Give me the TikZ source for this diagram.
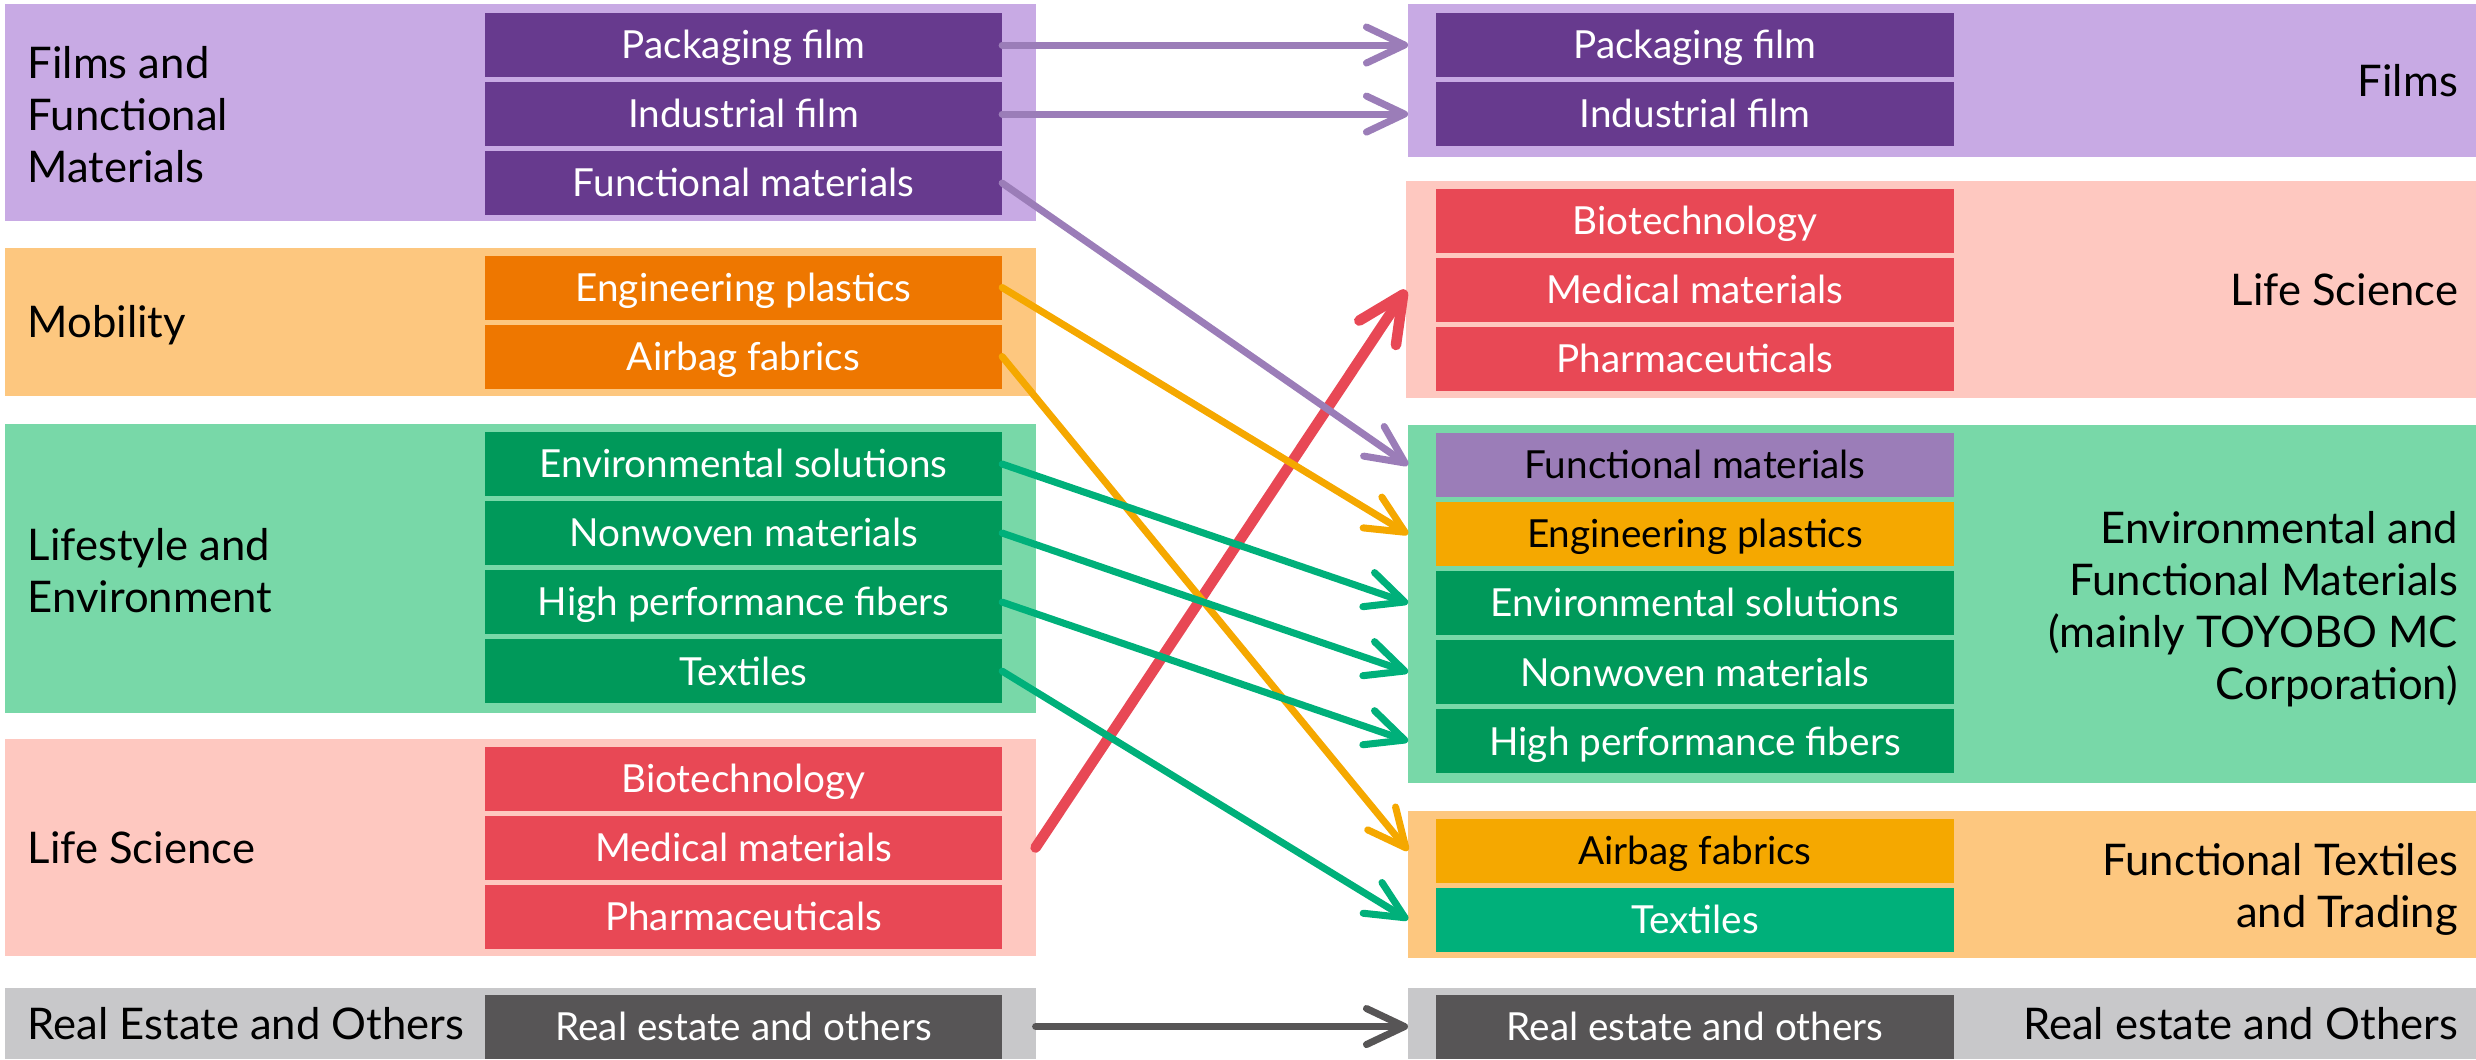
\documentclass[tikz,border=0pt]{standalone}
\usepackage{fontspec}
\setmainfont{Lato}
\usepackage{tikz}
\usetikzlibrary{positioning,arrows.meta}

\definecolor{filmbg}{HTML}{C8AAE4}
\definecolor{filmbox}{HTML}{673A8E}
\definecolor{filmline}{HTML}{9B7DB8}
\definecolor{mobbg}{HTML}{FDC77F}
\definecolor{mobbox}{HTML}{EE7700}
\definecolor{mobline}{HTML}{F5A800}
\definecolor{lifebg}{HTML}{78D8A8}
\definecolor{lifebox}{HTML}{00995A}
\definecolor{lifeline}{HTML}{00B07A}
\definecolor{scibg}{HTML}{FEC8C0}
\definecolor{scibox}{HTML}{E84855}
\definecolor{realbg}{HTML}{C8C8CA}
\definecolor{realbox}{HTML}{575556}

\begin{document}
\begin{tikzpicture}[x=0.01cm,y=-0.01cm,
    grp/.style={rectangle,inner sep=0pt,outer sep=0pt,anchor=north west},
    seg/.style={rectangle,inner sep=0pt,outer sep=0pt,minimum width=5.17cm,minimum height=0.64cm,
        text=white,font=\fontsize{11}{13}\selectfont,text height=7.9pt,text depth=0pt},
    grplabel/.style={inner sep=0pt,font=\fontsize{12.4}{14.8}\selectfont},
    oneline/.style={text height=8.9pt,text depth=0pt},
    manyline/.style={yshift=-0.05cm},
    link/.style={line width=2pt,line cap=round,-{Straight Barb[length=3.8mm,width=3.6mm,round]}}]
  \useasboundingbox (0,0) rectangle (2476,1059);

  % left side: old segments
  \node[grp,fill=filmbg,minimum width=10.3cm,minimum height=2.17cm] (gFilm) at (5,4) {};
  \node[grp,fill=mobbg,minimum width=10.3cm,minimum height=1.48cm] (gMob) at (5,248) {};
  \node[grp,fill=lifebg,minimum width=10.3cm,minimum height=2.89cm] (gLife) at (5,424) {};
  \node[grp,fill=scibg,minimum width=10.3cm,minimum height=2.17cm] (gSci) at (5,739) {};
  \node[grp,fill=realbg,minimum width=10.3cm,minimum height=0.71cm] (gReal) at (5,988) {};

  \node[grplabel,yshift=-0.02cm,align=left,right=0.22cm of gFilm.west] (tFilm) {Films and\\Functional\\Materials};
  \node[grplabel,oneline,right=0.22cm of gMob.west] (tMob) {Mobility};
  \node[grplabel,yshift=-0.02cm,align=left,right=0.22cm of gLife.west] (tLife) {Lifestyle and\\Environment};
  \node[grplabel,oneline,right=0.22cm of gSci.west] (tSci) {Life Science};
  \node[grplabel,oneline,right=0.22cm of gReal.west] (tReal) {Real Estate and Others};

  \node[seg,fill=filmbox] (lPack) at (743.5,45) {Packaging film};
  \node[seg,fill=filmbox,below=0.05cm of lPack] (lInd) {Industrial film};
  \node[seg,fill=filmbox,below=0.05cm of lInd] (lFunc) {Functional materials};

  \node[seg,fill=mobbox] (lEng) at (743.5,287.5) {Engineering plastics};
  \node[seg,fill=mobbox,below=0.05cm of lEng] (lAir) {Airbag fabrics};

  \node[seg,fill=lifebox] (lEnv) at (743.5,464) {Environmental solutions};
  \node[seg,fill=lifebox,below=0.05cm of lEnv] (lNon) {Nonwoven materials};
  \node[seg,fill=lifebox,below=0.05cm of lNon] (lHigh) {High performance fibers};
  \node[seg,fill=lifebox,below=0.05cm of lHigh] (lTex) {Textiles};

  \node[seg,fill=scibox] (lBio) at (743.5,778.5) {Biotechnology};
  \node[seg,fill=scibox,below=0.05cm of lBio] (lMed) {Medical materials};
  \node[seg,fill=scibox,below=0.05cm of lMed] (lPha) {Pharmaceuticals};

  \node[seg,fill=realbox] (lReal) at (743.5,1026.5) {Real estate and others};

  % right side: new segments
  \node[grp,fill=filmbg,minimum width=10.68cm,minimum height=1.53cm] (hFilm) at (1408,4) {};
  \node[grp,fill=scibg,minimum width=10.7cm,minimum height=2.17cm] (hSci) at (1406,181) {};
  \node[grp,fill=lifebg,minimum width=10.68cm,minimum height=3.58cm] (hEnv) at (1408,425) {};
  \node[grp,fill=mobbg,minimum width=10.68cm,minimum height=1.47cm] (hText) at (1408,811) {};
  \node[grp,fill=realbg,minimum width=10.68cm,minimum height=0.71cm] (hReal) at (1408,988) {};

  \node[grplabel,oneline,left=0.18cm of hFilm.east] (sFilm) {Films};
  \node[grplabel,oneline,left=0.18cm of hSci.east] (sSci) {Life Science};
  \node[grplabel,manyline,align=right,left=0.18cm of hEnv.east] (sEnv) {Environmental and\\Functional Materials\\(mainly TOYOBO MC\\Corporation)};
  \node[grplabel,manyline,align=right,left=0.18cm of hText.east] (sText) {Functional Textiles\\and Trading};
  \node[grplabel,oneline,left=0.18cm of hReal.east] (sReal) {Real estate and Others};

  \node[seg,fill=filmbox] (rPack) at (1695,45) {Packaging film};
  \node[seg,fill=filmbox,below=0.05cm of rPack] (rInd) {Industrial film};

  \node[seg,fill=scibox] (rBio) at (1695,221) {Biotechnology};
  \node[seg,fill=scibox,below=0.05cm of rBio] (rMed) {Medical materials};
  \node[seg,fill=scibox,below=0.05cm of rMed] (rPha) {Pharmaceuticals};

  \node[seg,fill=filmline,text=black] (rFunc) at (1695,465) {Functional materials};
  \node[seg,fill=mobline,text=black,below=0.05cm of rFunc] (rEng) {Engineering plastics};
  \node[seg,fill=lifebox,below=0.05cm of rEng] (rEnv) {Environmental solutions};
  \node[seg,fill=lifebox,below=0.05cm of rEnv] (rNon) {Nonwoven materials};
  \node[seg,fill=lifebox,below=0.05cm of rNon] (rHigh) {High performance fibers};

  \node[seg,fill=mobline,text=black] (rAir) at (1695,850.5) {Airbag fabrics};
  \node[seg,fill=lifeline,below=0.05cm of rAir] (rTex) {Textiles};

  \node[seg,fill=realbox] (rReal) at (1695,1026.5) {Real estate and others};

  % arrows
  \draw[link,scibox,line width=3pt,-{Straight Barb[length=4.6mm,width=4.4mm,round]}] (lMed.east -| gSci.east) -- (rMed.west -| hSci.west);
  \draw[link,filmline] (lPack.east) -- (rPack.west -| hFilm.west);
  \draw[link,filmline] (lInd.east) -- (rInd.west -| hFilm.west);
  \draw[link,filmline] (lFunc.east) -- (rFunc.west -| hEnv.west);
  \draw[link,mobline] (lEng.east) -- (rEng.west -| hEnv.west);
  \draw[link,mobline] (lAir.east) -- (rAir.west -| hText.west);
  \draw[link,lifeline] (lEnv.east) -- (rEnv.west -| hEnv.west);
  \draw[link,lifeline] (lNon.east) -- (rNon.west -| hEnv.west);
  \draw[link,lifeline] (lHigh.east) -- (rHigh.west -| hEnv.west);
  \draw[link,lifeline] (lTex.east) -- (rTex.west -| hText.west);
  \draw[link,realbox] (lReal.east -| gReal.east) -- (rReal.west -| hReal.west);
\end{tikzpicture}
\end{document}
